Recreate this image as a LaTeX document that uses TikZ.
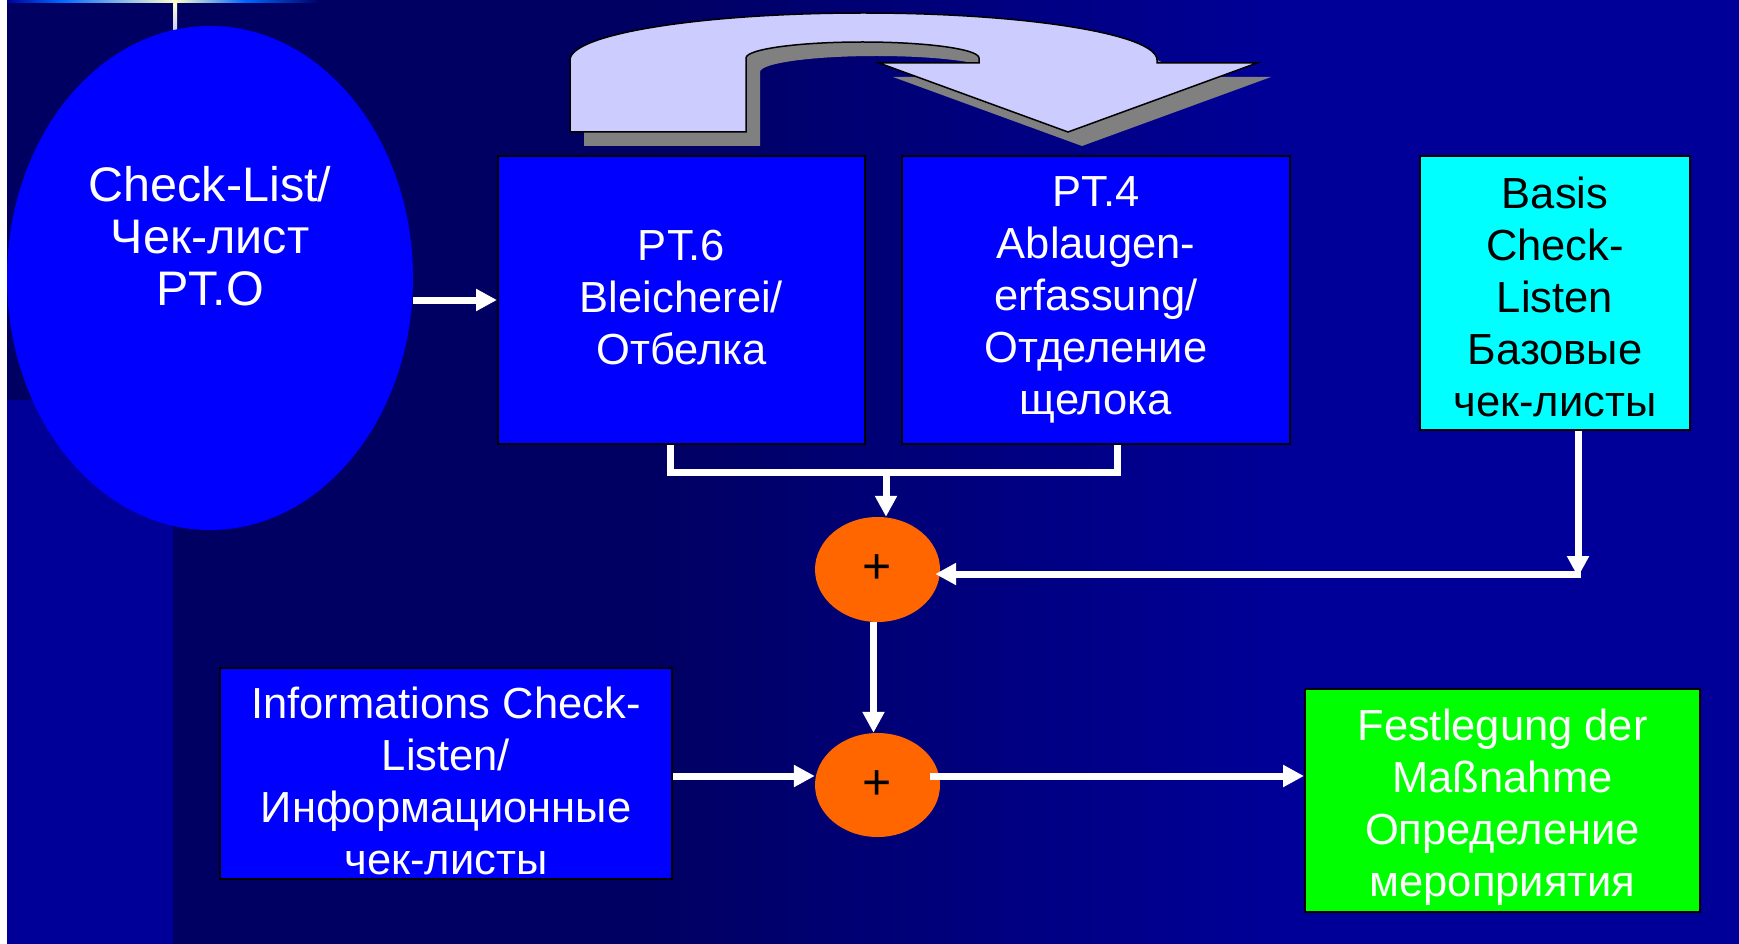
\documentclass[tikz,border=0pt]{standalone}
\usepackage{fontspec}
\setmainfont{Liberation Sans}
\usetikzlibrary{arrows.meta,shapes.geometric}
\definecolor{bgdark}{HTML}{000062}
\definecolor{bgblue}{HTML}{000099}
\definecolor{boxblue}{HTML}{0000FF}
\definecolor{plusorange}{HTML}{FF6600}
\definecolor{uturn}{HTML}{CCCCFF}
\definecolor{boxgreen}{HTML}{00FF00}
\definecolor{boxcyan}{HTML}{00FFFF}
\definecolor{barblue}{HTML}{0066FF}
\definecolor{barlight}{HTML}{FFFFCC}
\tikzset{
  txt/.style={text=white,align=center,inner sep=0pt,font=\fontsize{43.5}{52}\selectfont},
  box/.style={txt,draw=black,line width=2pt,fill=boxblue},
  plus/.style={ellipse,fill=plusorange,inner sep=0pt,minimum width=125pt,
    minimum height=105pt,font=\fontsize{50}{50}\selectfont},
  link/.style={white,line width=7pt},
  flow/.style={link,-{Triangle[length=21pt,width=21pt]}},
}

\begin{document}
\begin{tikzpicture}[x=1pt,y=1pt]
  \useasboundingbox (0,0) rectangle (1739,-944);
  % background
  \fill[bgdark] (0,0) rectangle (1739,-944);
  \shade[left color=bgdark,right color=bgblue] (650,0) rectangle (1300,-944);
  \fill[bgblue] (1299,0) rectangle (1739,-944);
  \fill[bgblue] (7,-400) rectangle (173,-944);
  \fill[white] (0,0) rectangle (7,-944);
  % top bar
  \shade[left color=bgblue,right color=barblue] (7,0) rectangle (60,-3);
  \shade[left color=barblue,right color=barlight] (60,0) rectangle (175,-3);
  \shade[left color=barlight,right color=barblue] (175,0) rectangle (245,-3);
  \shade[left color=barblue,right color=bgdark] (245,0) rectangle (320,-3);
  \shade[top color=barlight,bottom color=uturn] (173,-3) rectangle (177,-30);

  % u-turn arrow with shadow
  \begin{scope}[xshift=14pt,yshift=-14pt]
    \fill[gray] (570,-132) -- (570,-60)
      arc[start angle=180,end angle=0,x radius=293.5,y radius=47]
      -- (1157,-63) -- (1257,-63) -- (1068,-132) -- (879,-63) -- (979,-63) -- (979,-58)
      arc[start angle=0,end angle=180,x radius=116.5,y radius=16]
      -- (746,-132) -- cycle;
  \end{scope}
  \filldraw[fill=uturn,draw=black,line width=1.5pt] (570,-132) -- (570,-60)
    arc[start angle=180,end angle=0,x radius=293.5,y radius=47]
    -- (1157,-63) -- (1257,-63) -- (1068,-132) -- (879,-63) -- (979,-63) -- (979,-58)
    arc[start angle=0,end angle=180,x radius=116.5,y radius=16]
    -- (746,-132) -- cycle;

  % nodes
  \node[ellipse,fill=boxblue,minimum width=406pt,minimum height=504pt,inner sep=0pt]
    (cl) at (210,-278) {};
  \node[txt,font=\fontsize{48.5}{52}\selectfont] (cltxt) at (210,-236)
    {Check-List/\\Чек-лист\\PT.O};
  \node[box,minimum width=367pt,minimum height=288pt] (pt6) at (681.5,-300) {};
  \node[txt] (pt6txt) at (681.5,-298) {PT.6\\Bleicherei/\\Отбелка};
  \node[box,minimum width=388pt,minimum height=288pt] (pt4) at (1096,-300)
    {PT.4\\Ablaugen-\\erfassung/\\Отделение\\щелока};
  \node[box,fill=boxcyan,text=black,minimum width=270pt,minimum height=274pt]
    (basis) at (1555,-293) {};
  \node[txt,text=black] (basistxt) at (1555,-297)
    {Basis\\Check-\\Listen\\Базовые\\чек-листы};
  \node[box,minimum width=452pt,minimum height=211pt] (info) at (446,-773.5) {};
  \node[txt] (infotxt) at (446,-781)
    {Informations Check-\\Listen/\\Информационные\\чек-листы};
  \node[box,fill=boxgreen,minimum width=395pt,minimum height=223pt] (measure)
    at (1502.5,-800.5) {};
  \node[txt] (measuretxt) at (1502.5,-807)
    {Festlegung der\\Maßnahme\\Определение\\мероприятия};
  \node[plus] (c1) at (877.5,-569.5) {+};
  \node[plus,minimum height=104pt] (c2) at (877.5,-785) {+};

  % connectors
  \coordinate (jl) at (670,-472);
  \coordinate (jm) at (886,-472);
  \coordinate (jr) at (1117,-472);
  \coordinate (bc) at (1578,-574);
  \coordinate (mid) at (0,-776);
  \draw[flow] (pt6.west -| cl.east) -- (pt6.west);
  \draw[link] (pt6.south -| jl) -- (jl) -- (jr) -- (pt4.south -| jr);
  \draw[flow] (jm) -- (c1.north -| jm);
  \draw[flow] (basis.south -| bc) -- ([yshift=-3pt]bc);
  \draw[flow,shorten >=-5pt] ([xshift=3pt]bc) -- (c1.east |- bc);
  \draw[flow] ([xshift=-4pt]c1.south) -- ([xshift=-4pt]c2.north);
  \draw[flow] (info.east |- mid) -- (c2.west |- mid);
  \draw[flow] ([xshift=-10pt]c2.east |- mid) -- (measure.west |- mid);
\end{tikzpicture}
\end{document}
